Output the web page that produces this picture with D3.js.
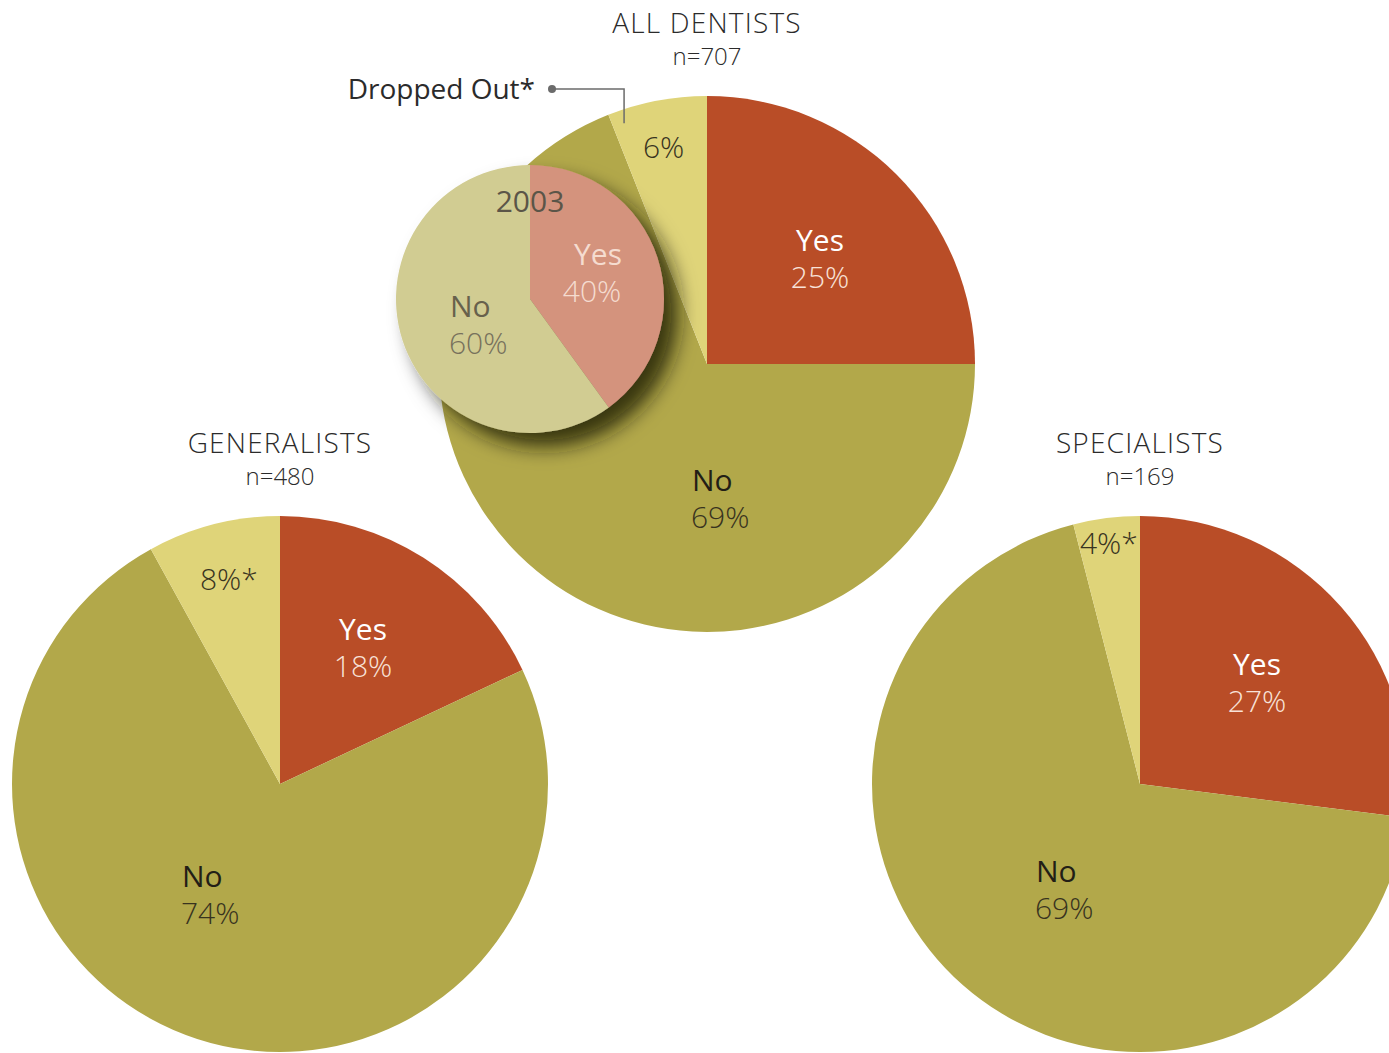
<!DOCTYPE html>
<html>
<head>
<meta charset="utf-8">
<script src="https://cdn.jsdelivr.net/npm/d3@7"></script>
<style>
  html, body { margin: 0; padding: 0; background: #fff; }
  svg { display: block; font-family: 'Open Sans', 'Noto Sans', sans-serif; }
</style>
</head>
<body>
<div id="chart"></div>
<script>
'use strict';

// answers, in drawing order (clockwise from 12 o'clock)
const answers = ['Yes', 'No', 'Dropped'];

const allValues = [25, 69, 6];
const generalistValues = [18, 74, 8];
const specialistValues = [27, 69, 4];

const insetAnswers = ['Yes', 'No'];
const insetValues = [40, 60];

const groupTitles = ['ALL DENTISTS', 'GENERALISTS', 'SPECIALISTS'];
const groupCounts = [707, 480, 169];

const width = 1389;
const height = 1053;

const color = d3.scaleOrdinal()
  .domain(answers)
  .range(['#b94d27', '#b2a84a', '#dfd479']);

const insetColor = d3.scaleOrdinal()
  .domain(insetAnswers)
  .range(['#d4937d', '#d1cc92']);

const svg = d3.select('#chart').append('svg')
  .attr('width', width)
  .attr('height', height);

const defs = svg.append('defs');
defs.append('filter')
  .attr('id', 'shadow')
  .attr('x', '-30%').attr('y', '-30%')
  .attr('width', '170%').attr('height', '170%')
  .append('feDropShadow')
  .attr('dx', 14).attr('dy', 14)
  .attr('stdDeviation', 10)
  .attr('flood-color', '#1e1a05')
  .attr('flood-opacity', 0.8);

const pie = d3.pie().sort(null).value((d) => d.value);

// layout: pie centres, label offsets from centre
const pies = [
  {
    values: allValues, cx: 707, cy: 364, r: 268, titleY: 33,
    labels: {
      Yes: { dx: 113, dy: -113, anchor: 'middle' },
      No: { dx: -15, dy: 127, anchor: 'start' },
      Dropped: { dx: -64, dy: -206, anchor: 'start', star: false }
    }
  },
  {
    values: generalistValues, cx: 280, cy: 784, r: 268, titleY: 453,
    labels: {
      Yes: { dx: 83, dy: -144, anchor: 'middle' },
      No: { dx: -98, dy: 103, anchor: 'start' },
      Dropped: { dx: -80, dy: -194, anchor: 'start', star: true }
    }
  },
  {
    values: specialistValues, cx: 1140, cy: 784, r: 268, titleY: 453,
    labels: {
      Yes: { dx: 117, dy: -109, anchor: 'middle' },
      No: { dx: -104, dy: 98, anchor: 'start' },
      Dropped: { dx: -60, dy: -230, anchor: 'start', star: true }
    }
  }
];

const labelStyle = {
  Yes: { name: '#ffffff', pct: '#f8e2d8' },
  No: { name: '#221e16', pct: '#38331f' },
  Dropped: { name: '#38331f', pct: '#38331f' }
};

pies.forEach((p, i) => {
  const data = answers.map((a, j) => ({ answer: a, value: p.values[j] }));
  const arcs = pie(data);
  const arc = d3.arc().innerRadius(0).outerRadius(p.r);

  const g = svg.append('g').attr('transform', `translate(${p.cx},${p.cy})`);
  g.selectAll('path.slice')
    .data(arcs)
    .enter()
    .append('path')
    .attr('class', 'slice')
    .attr('d', arc)
    .attr('fill', (d) => color(d.data.answer));

  p.g = g;
  p.arcs = arcs;

  // title + n
  svg.append('text')
    .attr('x', p.cx).attr('y', p.titleY)
    .attr('text-anchor', 'middle')
    .attr('font-size', 28).attr('font-weight', 300)
    .attr('letter-spacing', 1.2)
    .attr('fill', '#2b2b2b')
    .text(groupTitles[i]);
  svg.append('text')
    .attr('x', p.cx).attr('y', p.titleY + 32)
    .attr('text-anchor', 'middle')
    .attr('font-size', 24).attr('font-weight', 300)
    .attr('fill', '#2b2b2b')
    .text('n=' + groupCounts[i]);
});

// inset 2003 pie over the all-dentists pie
const inset = { cx: 530, cy: 299, r: 134 };
const insetArcs = pie(insetAnswers.map((a, j) => ({ answer: a, value: insetValues[j] })));
const insetArc = d3.arc().innerRadius(0).outerRadius(inset.r);

// labels of the big pies
function drawLabels(p) {
  p.arcs.forEach((d) => {
    const a = d.data.answer;
    const l = p.labels[a];
    const st = labelStyle[a];
    const x = p.cx + l.dx;
    const y = p.cy + l.dy;
    if (a === 'Dropped') {
      svg.append('text')
        .attr('x', x).attr('y', y)
        .attr('font-size', 30).attr('font-weight', 300)
        .attr('fill', st.pct)
        .text(d.data.value + '%' + (l.star ? '*' : ''));
      return;
    }
    svg.append('text')
      .attr('x', x).attr('y', y)
      .attr('text-anchor', l.anchor)
      .attr('font-size', 30).attr('font-weight', 400)
      .attr('fill', st.name)
      .text(a);
    svg.append('text')
      .attr('x', l.anchor === 'start' ? x - 1 : x).attr('y', y + 37)
      .attr('text-anchor', l.anchor)
      .attr('font-size', 30).attr('font-weight', 300)
      .attr('fill', st.pct)
      .text(d.data.value + '%');
  });
}

pies.forEach(drawLabels);

const ig = svg.append('g')
  .attr('transform', `translate(${inset.cx},${inset.cy})`);
ig.append('g')
  .attr('filter', 'url(#shadow)')
  .selectAll('path')
  .data(insetArcs)
  .enter()
  .append('path')
  .attr('d', insetArc)
  .attr('fill', (d) => insetColor(d.data.answer));

const insetLabels = {
  Yes: { dx: 68, dy: -34, name: '#f5dcd0', pct: '#f5dcd0', anchor: 'middle' },
  No: { dx: -80, dy: 18, name: '#67614c', pct: '#77715c', anchor: 'start' }
};
insetArcs.forEach((d) => {
  const l = insetLabels[d.data.answer];
  ig.append('text')
    .attr('x', l.dx).attr('y', l.dy)
    .attr('text-anchor', l.anchor)
    .attr('font-size', 30).attr('font-weight', 400)
    .attr('fill', l.name)
    .text(d.data.answer);
  ig.append('text')
    .attr('x', l.anchor === 'start' ? l.dx - 1 : l.dx - 6).attr('y', l.dy + 37)
    .attr('text-anchor', l.anchor)
    .attr('font-size', 30).attr('font-weight', 300)
    .attr('fill', l.pct)
    .text(d.data.value + '%');
});
ig.append('text')
  .attr('x', 0).attr('y', -87)
  .attr('text-anchor', 'middle')
  .attr('font-size', 30).attr('font-weight', 400)
  .attr('fill', '#5b5548')
  .text('2003');

// Dropped Out callout, pointing into the dropped slice of the main pie
const main = pies[0];
const dropArc = main.arcs[2];
const pointAngle = dropArc.startAngle + (dropArc.endAngle - dropArc.startAngle) * 0.12;
const callX = main.cx + Math.sin(pointAngle) * main.r * 0.95;
const callBottom = main.cy - Math.cos(pointAngle) * main.r * 0.95;
const callY = 89;
svg.append('path')
  .attr('d', `M552,${callY}H${callX}V${callBottom}`)
  .attr('fill', 'none')
  .attr('stroke', '#6b6b6b')
  .attr('stroke-width', 1.5);
svg.append('circle')
  .attr('cx', 552).attr('cy', callY).attr('r', 4)
  .attr('fill', '#6b6b6b');
svg.append('text')
  .attr('x', 535).attr('y', 99)
  .attr('text-anchor', 'end')
  .attr('font-size', 28).attr('font-weight', 400)
  .attr('fill', '#2b2b2b')
  .text('Dropped Out*');
</script>
</body>
</html>
